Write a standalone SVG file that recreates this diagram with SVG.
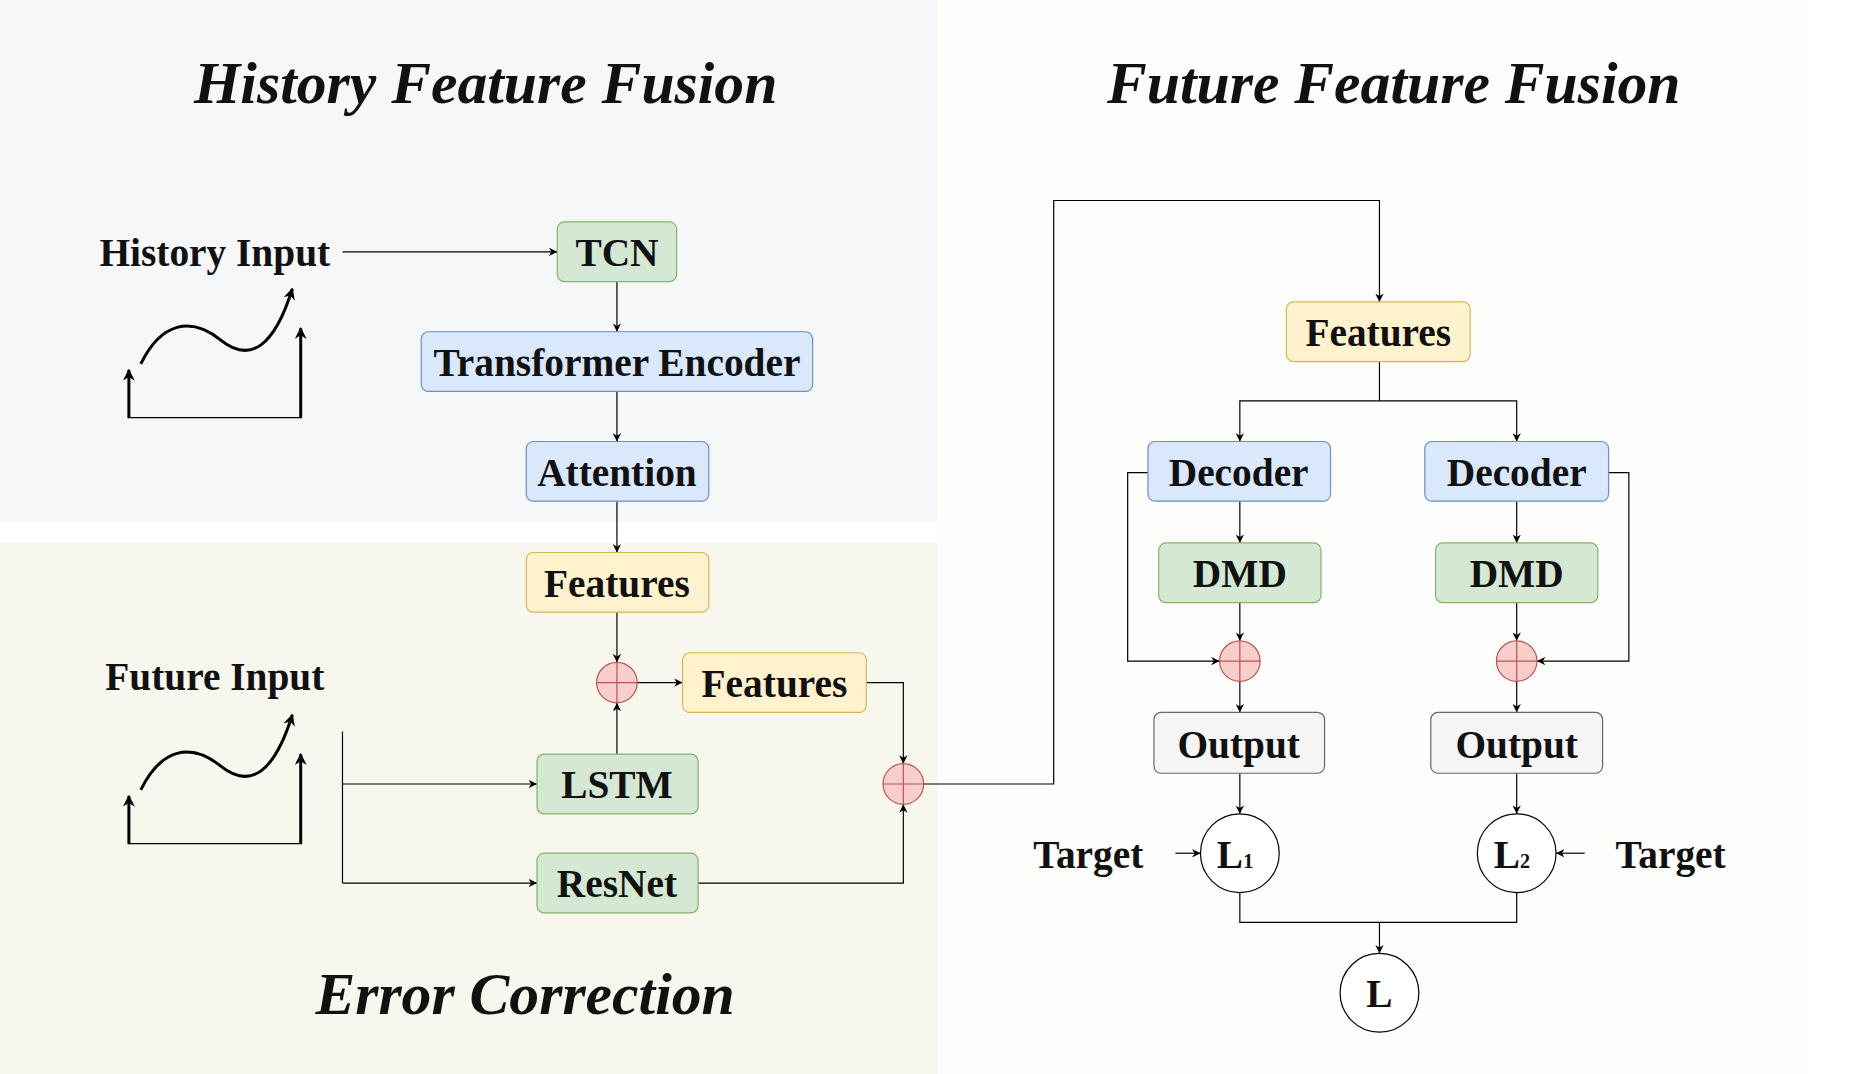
<svg xmlns="http://www.w3.org/2000/svg" width="1871" height="1074" viewBox="0 0 1871 1074">
<defs>
<marker id="a" viewBox="0 0 10 10" refX="10" refY="5" markerWidth="7" markerHeight="7" orient="auto" markerUnits="userSpaceOnUse"><path d="M0,0 L10,5 L0,10 L3,5 z" fill="#000"/></marker>
<marker id="b" viewBox="0 0 10 10" refX="9" refY="5" markerWidth="10" markerHeight="10" orient="auto" markerUnits="userSpaceOnUse"><path d="M0,0 L10,5 L0,10 L3,5 z" fill="#000"/></marker>
<style>
.t{font-family:"Liberation Serif",serif;font-weight:bold;text-anchor:middle;fill:#111}
.h{font-size:50px;font-style:italic}
.n{font-size:33px}
.g{fill:#d5e8d4;stroke:#82b366;stroke-width:1}
.bl{fill:#dae8fc;stroke:#6c8ebf;stroke-width:1}
.y{fill:#fff2cc;stroke:#d6b656;stroke-width:1}
.o{fill:#f5f5f5;stroke:#666;stroke-width:1}
.p{fill:#f8cecc;stroke:#b85450;stroke-width:1}
.c{fill:#fff;stroke:#000;stroke-width:1}
.l{fill:none;stroke:#000;stroke-width:1;marker-end:url(#a)}
.l0{fill:none;stroke:#000;stroke-width:1}
.s{fill:none;stroke:#000;stroke-width:2.5;marker-end:url(#b)}
</style>
</defs>
<g transform="scale(1.1933)">
<g id="bg">
<rect x="0" y="0" width="786" height="437" fill="#f6f7f8"/>
<rect x="0" y="455" width="786" height="445" fill="#f8f7ee"/>
<rect x="786" y="0" width="729" height="900" fill="#fdfdfb"/>
</g>
<g id="titles">
<text class="t h" x="407" y="86">History Feature Fusion</text>
<text class="t h" x="1168" y="86">Future Feature Fusion</text>
<text class="t h" x="440" y="850">Error Correction</text>
<text class="t n" x="180" y="223">History Input</text>
<text class="t n" x="180" y="578">Future Input</text>
<text class="t n" x="912" y="727">Target</text>
<text class="t n" x="1400" y="727" fill="#333">Target</text>
</g>
<g id="icons">
<path class="s" d="M108,350 L108,310"/><path class="l0" d="M107,350 L253,350" stroke-width="2.5"/><path class="s" d="M252,350 L252,275"/>
<path class="s" d="M118,305 C135,270 160,265 185,285 C210,305 230,290 245,242"/>
<path class="s" d="M108,707 L108,667"/><path class="l0" d="M107,707 L253,707" stroke-width="2.5"/><path class="s" d="M252,707 L252,632"/>
<path class="s" d="M118,662 C135,627 160,622 185,642 C210,662 230,647 245,599"/>
</g>
<g id="connectors">
<path class="l" d="M287,211 L467,211"/>
<path class="l" d="M517,236 L517,278"/>
<path class="l" d="M517,328 L517,370"/>
<path class="l" d="M517,420 L517,463"/>
<path class="l" d="M517,513 L517,555"/>
<path class="l" d="M534,572 L572,572"/>
<path class="l" d="M517,632 L517,589"/>
<path class="l0" d="M287,613 L287,740"/>
<path class="l" d="M287,657 L450,657"/>
<path class="l" d="M287,740 L450,740"/>
<path class="l" d="M726,572 L757,572 L757,640"/>
<path class="l" d="M585,740 L757,740 L757,674"/>
<path class="l" d="M774,657 L883,657 L883,168 L1156,168 L1156,253"/>
<path class="l0" d="M1156,303 L1156,336"/>
<path class="l" d="M1156,336 L1039,336 L1039,370"/>
<path class="l" d="M1156,336 L1271,336 L1271,370"/>
<path class="l" d="M1039,420 L1039,455"/>
<path class="l" d="M1271,420 L1271,455"/>
<path class="l" d="M1039,505 L1039,537"/>
<path class="l" d="M1271,505 L1271,537"/>
<path class="l" d="M962,396 L945,396 L945,554 L1022,554"/>
<path class="l" d="M1348,396 L1365,396 L1365,554 L1288,554"/>
<path class="l" d="M1039,571 L1039,597"/>
<path class="l" d="M1271,571 L1271,597"/>
<path class="l" d="M1039,648 L1039,682"/>
<path class="l" d="M1271,648 L1271,682"/>
<path class="l" d="M985,715 L1006,715"/>
<path class="l" d="M1328,715 L1304,715"/>
<path class="l0" d="M1039,748 L1039,773 L1271,773 L1271,748"/>
<path class="l" d="M1156,773 L1156,799"/>
</g>
<g id="tcn"><rect class="g" x="467" y="186" width="100" height="50" rx="6"/><text class="t n" x="517" y="223">TCN</text></g>
<g id="transformer"><rect class="bl" x="353" y="278" width="328" height="50" rx="6"/><text class="t n" x="517" y="315">Transformer Encoder</text></g>
<g id="attention"><rect class="bl" x="441" y="370" width="153" height="50" rx="6"/><text class="t n" x="517" y="407">Attention</text></g>
<g id="features1"><rect class="y" x="441" y="463" width="153" height="50" rx="6"/><text class="t n" x="517" y="500">Features</text></g>
<g id="plus1"><circle class="p" cx="517" cy="572" r="17"/><path d="M500,572 H534 M517,555 V589" stroke="#b85450"/></g>
<g id="features2"><rect class="y" x="572" y="547" width="154" height="50" rx="6"/><text class="t n" x="649" y="584">Features</text></g>
<g id="lstm"><rect class="g" x="450" y="632" width="135" height="50" rx="6"/><text class="t n" x="517" y="669">LSTM</text></g>
<g id="resnet"><rect class="g" x="450" y="715" width="135" height="50" rx="6"/><text class="t n" x="517" y="752">ResNet</text></g>
<g id="plus2"><circle class="p" cx="757" cy="657" r="17"/><path d="M740,657 H774 M757,640 V674" stroke="#b85450"/></g>
<g id="features3"><rect class="y" x="1078" y="253" width="154" height="50" rx="6"/><text class="t n" x="1155" y="290">Features</text></g>
<g id="decoder1"><rect class="bl" x="962" y="370" width="153" height="50" rx="6"/><text class="t n" x="1038" y="407">Decoder</text></g>
<g id="decoder2"><rect class="bl" x="1194" y="370" width="154" height="50" rx="6"/><text class="t n" x="1271" y="407">Decoder</text></g>
<g id="dmd1"><rect class="g" x="971" y="455" width="136" height="50" rx="6"/><text class="t n" x="1039" y="492">DMD</text></g>
<g id="dmd2"><rect class="g" x="1203" y="455" width="136" height="50" rx="6"/><text class="t n" x="1271" y="492">DMD</text></g>
<g id="plus3"><circle class="p" cx="1039" cy="554" r="17"/><path d="M1022,554 H1056 M1039,537 V571" stroke="#b85450"/></g>
<g id="plus4"><circle class="p" cx="1271" cy="554" r="17"/><path d="M1254,554 H1288 M1271,537 V571" stroke="#b85450"/></g>
<g id="output1"><rect class="o" x="967" y="597" width="143" height="51" rx="6"/><text class="t n" x="1038" y="635" fill="#333">Output</text></g>
<g id="output2"><rect class="o" x="1199" y="597" width="144" height="51" rx="6"/><text class="t n" x="1271" y="635" fill="#333">Output</text></g>
<g id="l1"><circle class="c" cx="1039" cy="715" r="33"/><text class="t n" x="1035" y="727">L<tspan font-size="17">1</tspan></text></g>
<g id="l2"><circle class="c" cx="1271" cy="715" r="33"/><text class="t n" x="1267" y="727">L<tspan font-size="17">2</tspan></text></g>
<g id="l"><circle class="c" cx="1156" cy="832" r="33"/><text class="t n" x="1156" y="844">L</text></g>
</g>
</svg>
